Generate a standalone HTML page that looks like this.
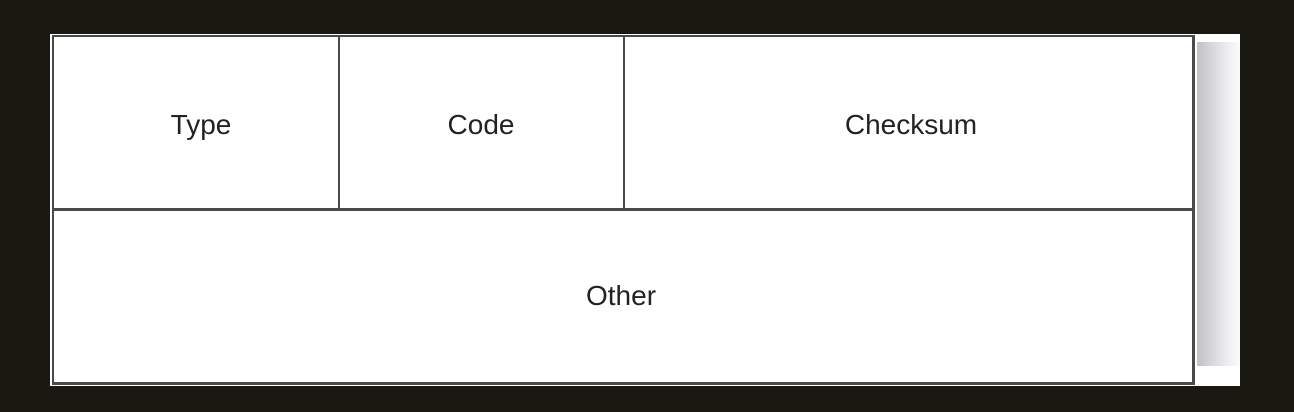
<!DOCTYPE html>
<html><head><style>
html,body{margin:0;padding:0;width:1294px;height:412px;background:#1a1911;overflow:hidden}
.w{position:absolute;left:50px;top:34px;width:1190px;height:352px;background:#fff}
.sh{position:absolute;left:1197px;top:42px;width:43px;height:324px;background:linear-gradient(to right,#c2c2c6,#ededf1 70%,#fbfbfd)}
.l{position:absolute;background:#4a4a4a}
.t{position:absolute;font-family:"Liberation Sans",sans-serif;font-size:28px;color:#222;transform:translateX(-50%);line-height:1}
</style></head><body>
<div class="w"></div>
<div class="sh"></div>
<div class="l" style="left:52px;top:35px;width:1143px;height:2px"></div>
<div class="l" style="left:52px;top:382px;width:1143px;height:3px"></div>
<div class="l" style="left:52px;top:35px;width:2px;height:350px"></div>
<div class="l" style="left:1192px;top:35px;width:3px;height:350px"></div>
<div class="l" style="left:52px;top:208px;width:1143px;height:3px"></div>
<div class="l" style="left:338px;top:35px;width:2px;height:175px"></div>
<div class="l" style="left:623px;top:35px;width:2px;height:175px"></div>
<div class="t" style="left:201px;top:111px">Type</div>
<div class="t" style="left:481px;top:111px">Code</div>
<div class="t" style="left:911px;top:111px">Checksum</div>
<div class="t" style="left:621px;top:282px">Other</div>
</body></html>
